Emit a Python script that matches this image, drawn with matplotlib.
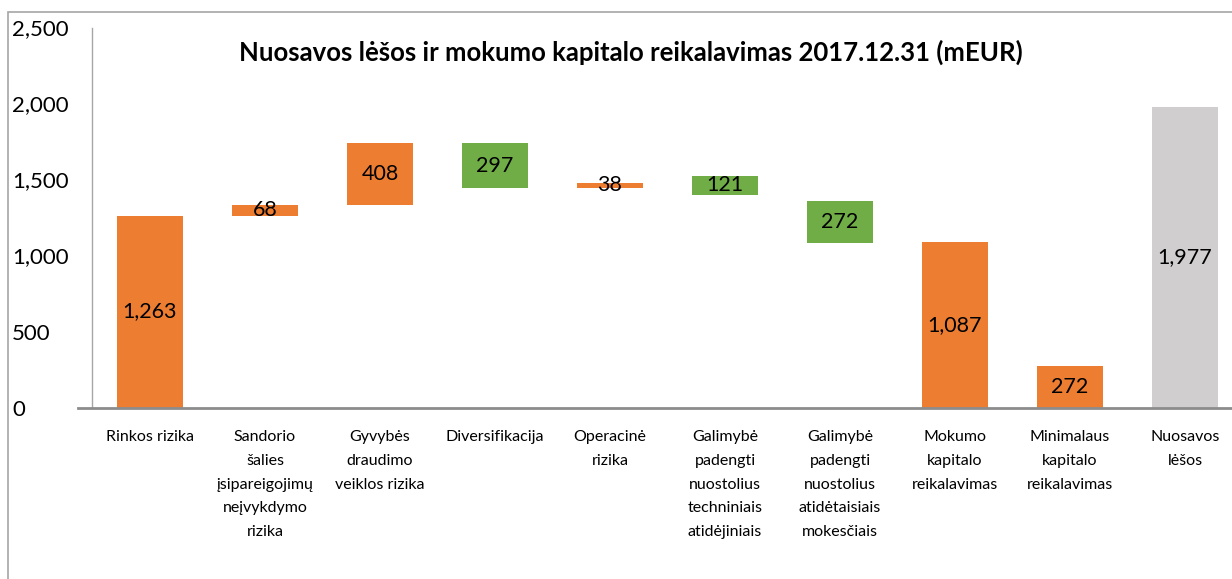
import matplotlib.pyplot as plt
from matplotlib.patches import Rectangle

plt.rcParams['font.family'] = ['Lato', 'DejaVu Sans']

# waterfall data (mEUR)
categories = ['Rinkos rizika',
              'Sandorio\nšalies\nįsipareigojimų\nneįvykdymo\nrizika',
              'Gyvybės\ndraudimo\nveiklos rizika',
              'Diversifikacija',
              'Operacinė\nrizika',
              'Galimybė\npadengti\nnuostolius\ntechniniais\natidėjiniais',
              'Galimybė\npadengti\nnuostolius\natidėtaisiais\nmokesčiais',
              'Mokumo\nkapitalo\nreikalavimas',
              'Minimalaus\nkapitalo\nreikalavimas',
              'Nuosavos\nlėšos']
values = [1263, 68, 408, 297, 38, 121, 272, 1087, 272, 1977]
bottoms = [0, 1263, 1331, 1442, 1442, 1401, 1084, 0, 0, 0]
kinds = ['up', 'up', 'up', 'down', 'up', 'down', 'down', 'up', 'up', 'total']

colors = {'up': '#ED7D31', 'down': '#70AD47', 'total': '#D0CECE'}

fig = plt.figure(figsize=(12.32, 5.79), dpi=100)

# outer chart frame
fig.patches.append(Rectangle((8 / 1232, -0.5), 2, 1.5 - 12 / 579,
                             transform=fig.transFigure, fill=False,
                             edgecolor='#A6A6A6', linewidth=1.2))

ax = fig.add_axes([78 / 1232, (579 - 407.5) / 579, (1232 - 78) / 1232, 380 / 579])

x = list(range(len(categories)))
bars = ax.bar(x, values, bottom=bottoms, width=0.574,
              color=[colors[k] for k in kinds])

for i, b in enumerate(bars):
    ax.text(b.get_x() + b.get_width() / 2, bottoms[i] + values[i] / 2,
            f'{values[i]:,}', ha='center', va='center', fontsize=15.5)

ax.set_xlim(-0.626, 9.409)
ax.set_ylim(0, 2500)
ax.set_yticks([0, 500, 1000, 1500, 2000, 2500])
ax.set_yticklabels([f'{v:,}' for v in [0, 500, 1000, 1500, 2000, 2500]],
                   fontsize=16, ha='left')
ax.tick_params(axis='y', length=0, pad=47.5)
ax.set_xticks(x)
ax.set_xticklabels(categories, fontsize=11.5, linespacing=1.9)
ax.tick_params(axis='x', length=0, pad=16)

for s in ['top', 'right', 'left']:
    ax.spines[s].set_visible(False)
ax.spines['bottom'].set_color('#8C8C8C')
ax.spines['bottom'].set_linewidth(2)
ax.plot([-0.5, -0.5], [0, 2500], color='#A6A6A6', linewidth=1, clip_on=False)

fig.text(631 / 1232, 1 - 52 / 579,
         'Nuosavos lėšos ir mokumo kapitalo reikalavimas 2017.12.31 (mEUR)',
         ha='center', va='center', fontsize=18.5, fontweight='bold')

plt.savefig('out.png', dpi=100)
